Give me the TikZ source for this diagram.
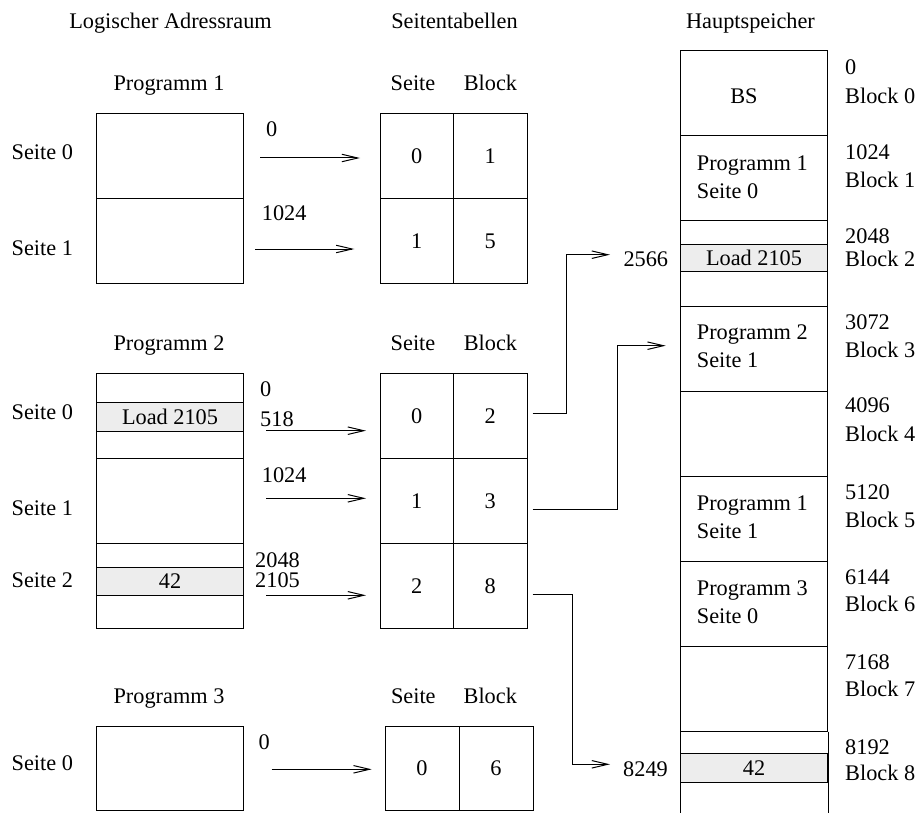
\documentclass[tikz,border=0pt]{standalone}
\usepackage{fontspec}
\setmainfont{Liberation Serif}
\usetikzlibrary{arrows.meta}
\begin{document}
\begin{tikzpicture}[x=1pt,y=-1pt,
  txt/.style={inner sep=0pt, text height=14.8pt, text depth=0pt,
              font=\fontsize{22.3}{26}\selectfont},
  lft/.style={txt, anchor=west},
  page/.style={draw, line width=1pt, inner sep=0pt, minimum width=147pt,
               minimum height=85pt, anchor=north west},
  cell/.style={txt, draw, line width=1pt, minimum width=73.5pt,
               minimum height=85pt, anchor=north west},
  band/.style={txt, draw, fill=black!7, line width=1pt, minimum width=147pt,
               anchor=north west},
  conn/.style={line width=1pt, -{Straight Barb[length=16pt,width=7.5pt,line width=1pt]}},
]
\useasboundingbox (0,0) rectangle (918,813);
\coordinate (bot) at (0,813);

% column headings
\node[txt] (hlog) at (170.5,20.8) {Logischer Adressraum};
\node[txt] (htab) at (454.5,20.8) {Seitentabellen};
\node[txt] (hmem) at (750.5,20.8) {Hauptspeicher};

% ---------- program 1 ----------
\node[txt] (prog1) at (169,83.3) {Programm 1};
\node[page] (p1s0) at (96,113) {};
\node[page] (p1s1) at (96,198) {};
\node[lft] (l1s0) at (11.5,151.7) {Seite 0};
\node[lft] (l1s1) at (11.5,248) {Seite 1};

\node[txt] (t1hs) at (413,83.3) {Seite};
\node[txt] (t1hb) at (490.5,83.3) {Block};
\node[cell] (t1s0) at (379.5,113) {0};
\node[cell] (t1b0) at (453,113) {1};
\node[cell] (t1s1) at (379.5,198) {1};
\node[cell] (t1b1) at (453,198) {5};

\node[lft] (o1a) at (266,129) {0};
\node[lft] (o1b) at (261.7,213) {1024};
\coordinate (a1s) at (260,158);   \coordinate (a1e) at (360,158);
\coordinate (a2s) at (255,249);   \coordinate (a2e) at (354.3,249);
\draw[conn] (a1s) -- (a1e);
\draw[conn] (a2s) -- (a2e);

% ---------- program 2 ----------
\node[txt] (prog2) at (169,343.3) {Programm 2};
\node[page] (p2s0) at (96,373) {};
\node[page] (p2s1) at (96,458) {};
\node[page] (p2s2) at (96,543) {};
\node[band, minimum height=28.5pt] (p2load) at (96,402) {Load 2105};
\node[band, minimum height=28pt] (p2val) at (96,567) {42};
\node[lft] (l2s0) at (11.5,412) {Seite 0};
\node[lft] (l2s1) at (11.5,508) {Seite 1};
\node[lft] (l2s2) at (11.5,580) {Seite 2};

\node[txt] (t2hs) at (413,343.3) {Seite};
\node[txt] (t2hb) at (490.5,343.3) {Block};
\node[cell] (t2s0) at (379.5,373) {0};
\node[cell] (t2b0) at (453,373) {2};
\node[cell] (t2s1) at (379.5,458) {1};
\node[cell] (t2b1) at (453,458) {3};
\node[cell] (t2s2) at (379.5,543) {2};
\node[cell] (t2b2) at (453,543) {8};

\node[lft] (o2a) at (260,389) {0};
\node[lft] (o2b) at (260,419) {518};
\node[lft] (o2c) at (261.7,475) {1024};
\node[lft] (o2d) at (255,560) {2048};
\node[lft] (o2e) at (255,580) {2105};
\coordinate (a3s) at (266,430.7); \coordinate (a3e) at (366,430.7);
\coordinate (a4s) at (266,498.3); \coordinate (a4e) at (366,498.3);
\coordinate (a5s) at (266,595.3); \coordinate (a5e) at (366,595.3);
\draw[conn] (a3s) -- (a3e);
\draw[conn] (a4s) -- (a4e);
\draw[conn] (a5s) -- (a5e);

% ---------- program 3 ----------
\node[txt] (prog3) at (169,696) {Programm 3};
\node[page, minimum height=84pt] (p3s0) at (96,726) {};
\node[lft] (l3s0) at (11.5,763.3) {Seite 0};

\node[txt] (t3hs) at (413.3,696) {Seite};
\node[txt] (t3hb) at (490.3,696) {Block};
\node[cell, minimum width=74pt, minimum height=84pt] (t3s0) at (384.5,726) {0};
\node[cell, minimum width=74pt, minimum height=84pt] (t3b0) at (458.5,726) {6};

\node[lft] (o3a) at (258.3,741.7) {0};
\coordinate (a6s) at (271.7,769.3); \coordinate (a6e) at (371.7,769.3);
\draw[conn] (a6s) -- (a6e);

% ---------- main memory ----------
\node[page] (m0) at (680,50.5) {};
\node[page] (m1) at (680,135.5) {};
\node[page] (m2) at (680,220.5) {};
\node[page] (m3) at (680,305.5) {};
\node[page] (m4) at (680,390.5) {};
\node[page] (m5) at (680,475.5) {};
\node[page] (m6) at (680,560.5) {};
\node[page] (m7) at (680,645.5) {};
\draw[line width=1pt] (m7.south west) -- (m7.south west |- bot);
\draw[line width=1pt] (m7.south east) -- (m7.south east |- bot);
\node[band, minimum height=27pt] (mload) at (680,244) {Load 2105};
\node[band, minimum height=29pt] (mval) at (680,753) {42};

\node[txt] (mbs) at (744,95.7) {BS};
\node[lft] (m1a) at (696.7,163.3) {Programm 1};
\node[lft] (m1b) at (696.7,190.7) {Seite 0};
\node[lft] (m3a) at (696.7,332.3) {Programm 2};
\node[lft] (m3b) at (696.7,360) {Seite 1};
\node[lft] (m5a) at (696.7,503.3) {Programm 1};
\node[lft] (m5b) at (696.7,530.7) {Seite 1};
\node[lft] (m6a) at (696.7,588.3) {Programm 3};
\node[lft] (m6b) at (696.7,616) {Seite 0};

% block addresses and numbers
\node[lft] (r0a) at (845,66.7)  {0};     \node[lft] (r0b) at (845,95.7)  {Block 0};
\node[lft] (r1a) at (845,151.7) {1024};  \node[lft] (r1b) at (845,180)   {Block 1};
\node[lft] (r2a) at (845,235.7) {2048};  \node[lft] (r2b) at (845,259.3) {Block 2};
\node[lft] (r3a) at (845,321.7) {3072};  \node[lft] (r3b) at (845,350)   {Block 3};
\node[lft] (r4a) at (845,405)   {4096};  \node[lft] (r4b) at (845,434.3) {Block 4};
\node[lft] (r5a) at (845,491.7) {5120};  \node[lft] (r5b) at (845,520)   {Block 5};
\node[lft] (r6a) at (845,576.7) {6144};  \node[lft] (r6b) at (845,604)   {Block 6};
\node[lft] (r7a) at (845,661.7) {7168};  \node[lft] (r7b) at (845,689.3) {Block 7};
\node[lft] (r8a) at (845,746.7) {8192};  \node[lft] (r8b) at (845,773.3) {Block 8};

% physical addresses
\node[lft] (pa1) at (623.3,259.3) {2566};
\node[lft] (pa2) at (623,769.3) {8249};

% page table entries to memory blocks
\coordinate (e1s) at (532.5,413.3); \coordinate (e1e) at (610,254.7);
\coordinate (e2s) at (532.5,509.3); \coordinate (e2e) at (665.7,345.7);
\coordinate (e3s) at (532.5,594.3); \coordinate (e3e) at (610,764.3);
\draw[conn] (e1s) -- ++(34.2,0) |- (e1e);
\draw[conn] (e2s) -- ++(84.8,0) |- (e2e);
\draw[conn] (e3s) -- ++(39.5,0) |- (e3e);
\end{tikzpicture}
\end{document}
